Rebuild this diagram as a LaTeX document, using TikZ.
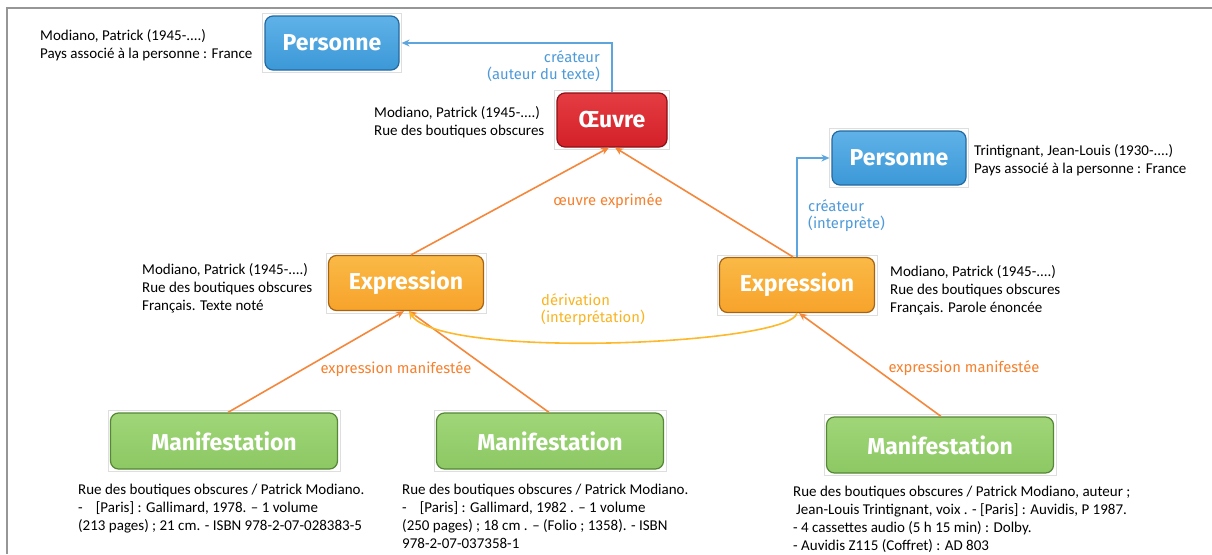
\documentclass[tikz,border=0pt]{standalone}
\usepackage{fontspec}
\setmainfont{Carlito}
\newfontfamily\boxfont{Fira Sans}
\newfontfamily\lblfont{Fira Sans}
\usetikzlibrary{arrows.meta,calc}
\definecolor{frame}{RGB}{150,150,150}
\definecolor{imgframe}{RGB}{222,222,222}
\definecolor{pblue}{RGB}{60,152,215}
\definecolor{pbluel}{RGB}{95,178,232}
\definecolor{pblued}{RGB}{35,105,160}
\definecolor{wred}{RGB}{212,32,40}
\definecolor{wredl}{RGB}{228,60,66}
\definecolor{wredd}{RGB}{140,15,20}
\definecolor{eor}{RGB}{247,163,43}
\definecolor{eorl}{RGB}{250,185,70}
\definecolor{eord}{RGB}{165,100,20}
\definecolor{mgr}{RGB}{140,200,100}
\definecolor{mgrl}{RGB}{160,214,120}
\definecolor{mgrd}{RGB}{85,135,55}
\definecolor{arrorange}{RGB}{244,135,58}
\definecolor{lblorange}{RGB}{245,128,45}
\definecolor{arrblue}{RGB}{93,165,222}
\definecolor{lblblue}{RGB}{78,154,216}
\definecolor{arryellow}{RGB}{253,185,43}
\definecolor{lblyellow}{RGB}{249,180,35}
\tikzset{
  entity/.style={rounded corners=8pt, line width=1.2pt, inner sep=0pt,
    text=white, font=\boxfont\bfseries\fontsize{23}{26}\selectfont},
  personne/.style={entity, draw=pblued, top color=pbluel, bottom color=pblue, minimum width=134pt, minimum height=54pt},
  oeuvre/.style={entity, draw=wredd, top color=wredl, bottom color=wred, minimum width=110pt, minimum height=54pt},
  expr/.style={entity, draw=eord, top color=eorl, bottom color=eor, minimum width=155pt, minimum height=55pt},
  manif/.style={entity, draw=mgrd, top color=mgrl, bottom color=mgr, minimum width=227pt, minimum height=56pt},
  boxframe/.style={draw=imgframe, line width=0.7pt},
  info/.style={anchor=north west, align=left, inner sep=0pt, font=\fontsize{15}{18}\selectfont},
  lbl/.style={inner sep=0pt, font=\lblfont\fontsize{14.8}{17}\selectfont},
  orangearrow/.style={draw=arrorange, line width=1.6pt, -{Stealth[length=8pt,width=7pt]}},
  bluearrow/.style={draw=arrblue, line width=1.4pt, -{Stealth[length=8pt,width=7pt]}},
  yellowarrow/.style={draw=arryellow, line width=1.6pt, -{Stealth[length=8pt,width=7pt]}},
}
\begin{document}
\begin{tikzpicture}[x=1pt,y=-1pt]
\useasboundingbox (0,0) rectangle (1212,554);
\draw[frame, line width=1.5pt] (1212,8) -- (7,8) -- (7,554);

% entity boxes
\node[personne] (p1) at (332,43) {Personne};
\node[oeuvre] (o) at (612,120) {Œuvre};
\node[personne] (p2) at (899,158) {Personne};
\node[expr] (e1) at (406,283) {Expression};
\node[expr] (e2) at (797,285) {Expression};
\node[manif] (m1) at (224,441) {Manifestation};
\node[manif] (m2) at (550,441) {Manifestation};
\node[manif] (m3) at (940,445) {Manifestation};
\foreach \n in {p1,o,p2,e1,e2,m1,m2,m3}
  \draw[boxframe] ([xshift=-2pt,yshift=2pt]\n.north west) rectangle ([xshift=2pt,yshift=-2pt]\n.south east);

% descriptive texts
\node[info] (t1) at (40,29) {Modiano, Patrick (1945-....)\\Pays associé à la personne : France};
\node[info] (t2) at (374,106) {Modiano, Patrick (1945-....)\\Rue des boutiques obscures};
\node[info] (t3) at (974,144) {Trintignant, Jean-Louis (1930-....)\\Pays associé à la personne : France};
\node[info] (t4) at (142,263) {Modiano, Patrick (1945-....)\\Rue des boutiques obscures\\Français. Texte noté};
\node[info] (t5) at (890,265) {Modiano, Patrick (1945-....)\\Rue des boutiques obscures\\Français. Parole énoncée};
\node[info] (t6) at (78,484) {Rue des boutiques obscures / Patrick Modiano.\\-\hspace{13pt}[Paris] : Gallimard, 1978. – 1 volume\\(213 pages) ; 21 cm. - ISBN 978-2-07-028383-5};
\node[info] (t7) at (402,484) {Rue des boutiques obscures / Patrick Modiano.\\-\hspace{13pt}[Paris] : Gallimard, 1982 . – 1 volume\\(250 pages) ; 18 cm . – (Folio ; 1358). - ISBN\\978-2-07-037358-1};
\node[info] (t8) at (793,486) {Rue des boutiques obscures / Patrick Modiano, auteur ;\\\hspace{3pt}Jean-Louis Trintignant, voix . - [Paris] : Auvidis, P 1987.\\- 4 cassettes audio (5 h 15 min) : Dolby.\\- Auvidis Z115 (Coffret) : AD 803};

% connectors
\draw[bluearrow] (o.north) |- ([xshift=2pt]p1.east);
\draw[bluearrow] (e2.north) |- ([xshift=-2pt]p2.west);
\draw[orangearrow] ([xshift=5pt]e1.north) -- ([xshift=-3pt]o.south);
\draw[orangearrow] ([xshift=-4pt]e2.north) -- ([xshift=3pt]o.south);
\draw[orangearrow] ([xshift=4pt]m1.north) -- ([xshift=-2pt]e1.south);
\draw[orangearrow] ([xshift=-1pt]m2.north) -- ([xshift=3pt]e1.south);
\draw[orangearrow] ([xshift=1pt]m3.north) -- ([xshift=2pt]e2.south);
\draw[yellowarrow] (e2.south) .. controls (790,345) and (440,360) .. ([xshift=3pt]e1.south);

% connector labels
\node[lbl, text=lblblue, align=right, anchor=north east] (l1) at (600,50) {créateur\\(auteur du texte)};
\node[lbl, text=lblblue, align=left, anchor=north west] (l2) at (808,199) {créateur\\(interprète)};
\node[lbl, text=lblorange] (l3) at (608,201) {œuvre exprimée};
\node[lbl, text=lblyellow, align=left, anchor=north west] (l4) at (541,293) {dérivation\\(interprétation)};
\node[lbl, text=lblorange] (l5) at (396,369) {expression manifestée};
\node[lbl, text=lblorange] (l6) at (964,368) {expression manifestée};
\end{tikzpicture}
\end{document}
